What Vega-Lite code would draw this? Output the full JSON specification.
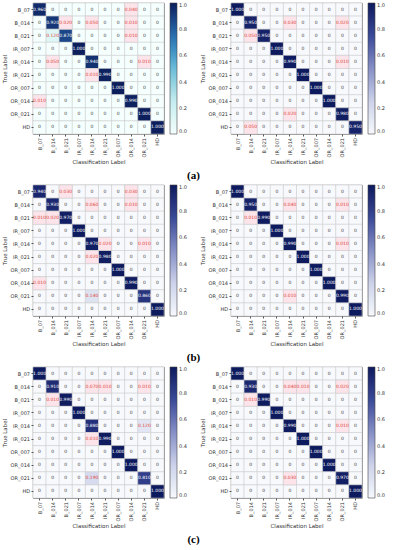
{
  "$schema": "https://vega.github.io/schema/vega-lite/v6.json",
  "padding": {"left": 1, "top": 2, "right": 1, "bottom": 0},
  "background": "white",
  "data": {"values": [
    {"g":"a1","t":"B_07","B_07":0.96,"B_014":0,"B_021":0,"IR_007":0,"IR_014":0,"IR_021":0,"OR_007":0,"OR_014":0.04,"OR_021":0,"HD":0},
    {"g":"a1","t":"B_014","B_07":0,"B_014":0.92,"B_021":0.02,"IR_007":0,"IR_014":0.05,"IR_021":0,"OR_007":0,"OR_014":0.01,"OR_021":0,"HD":0},
    {"g":"a1","t":"B_021","B_07":0,"B_014":0.12,"B_021":0.87,"IR_007":0,"IR_014":0,"IR_021":0,"OR_007":0,"OR_014":0.01,"OR_021":0,"HD":0},
    {"g":"a1","t":"IR_007","B_07":0,"B_014":0,"B_021":0,"IR_007":1,"IR_014":0,"IR_021":0,"OR_007":0,"OR_014":0,"OR_021":0,"HD":0},
    {"g":"a1","t":"IR_014","B_07":0,"B_014":0.05,"B_021":0,"IR_007":0,"IR_014":0.94,"IR_021":0,"OR_007":0,"OR_014":0,"OR_021":0.01,"HD":0},
    {"g":"a1","t":"IR_021","B_07":0,"B_014":0,"B_021":0,"IR_007":0,"IR_014":0.01,"IR_021":0.99,"OR_007":0,"OR_014":0,"OR_021":0,"HD":0},
    {"g":"a1","t":"OR_007","B_07":0,"B_014":0,"B_021":0,"IR_007":0,"IR_014":0,"IR_021":0,"OR_007":1,"OR_014":0,"OR_021":0,"HD":0},
    {"g":"a1","t":"OR_014","B_07":0.01,"B_014":0,"B_021":0,"IR_007":0,"IR_014":0,"IR_021":0,"OR_007":0,"OR_014":0.99,"OR_021":0,"HD":0},
    {"g":"a1","t":"OR_021","B_07":0,"B_014":0,"B_021":0,"IR_007":0,"IR_014":0,"IR_021":0,"OR_007":0,"OR_014":0,"OR_021":1,"HD":0},
    {"g":"a1","t":"HD","B_07":0,"B_014":0,"B_021":0,"IR_007":0,"IR_014":0,"IR_021":0,"OR_007":0,"OR_014":0,"OR_021":0,"HD":1},

    {"g":"a2","t":"B_07","B_07":1,"B_014":0,"B_021":0,"IR_007":0,"IR_014":0,"IR_021":0,"OR_007":0,"OR_014":0,"OR_021":0,"HD":0},
    {"g":"a2","t":"B_014","B_07":0,"B_014":0.95,"B_021":0,"IR_007":0,"IR_014":0.03,"IR_021":0,"OR_007":0,"OR_014":0,"OR_021":0.02,"HD":0},
    {"g":"a2","t":"B_021","B_07":0,"B_014":0.05,"B_021":0.95,"IR_007":0,"IR_014":0,"IR_021":0,"OR_007":0,"OR_014":0,"OR_021":0,"HD":0},
    {"g":"a2","t":"IR_007","B_07":0,"B_014":0,"B_021":0,"IR_007":1,"IR_014":0,"IR_021":0,"OR_007":0,"OR_014":0,"OR_021":0,"HD":0},
    {"g":"a2","t":"IR_014","B_07":0,"B_014":0,"B_021":0,"IR_007":0,"IR_014":0.99,"IR_021":0,"OR_007":0,"OR_014":0,"OR_021":0.01,"HD":0},
    {"g":"a2","t":"IR_021","B_07":0,"B_014":0,"B_021":0,"IR_007":0,"IR_014":0,"IR_021":1,"OR_007":0,"OR_014":0,"OR_021":0,"HD":0},
    {"g":"a2","t":"OR_007","B_07":0,"B_014":0,"B_021":0,"IR_007":0,"IR_014":0,"IR_021":0,"OR_007":1,"OR_014":0,"OR_021":0,"HD":0},
    {"g":"a2","t":"OR_014","B_07":0,"B_014":0,"B_021":0,"IR_007":0,"IR_014":0,"IR_021":0,"OR_007":0,"OR_014":1,"OR_021":0,"HD":0},
    {"g":"a2","t":"OR_021","B_07":0,"B_014":0,"B_021":0,"IR_007":0,"IR_014":0.02,"IR_021":0,"OR_007":0,"OR_014":0,"OR_021":0.98,"HD":0},
    {"g":"a2","t":"HD","B_07":0,"B_014":0.05,"B_021":0,"IR_007":0,"IR_014":0,"IR_021":0,"OR_007":0,"OR_014":0,"OR_021":0,"HD":0.95},

    {"g":"b1","t":"B_07","B_07":0.94,"B_014":0,"B_021":0.03,"IR_007":0,"IR_014":0,"IR_021":0,"OR_007":0,"OR_014":0.03,"OR_021":0,"HD":0},
    {"g":"b1","t":"B_014","B_07":0,"B_014":0.93,"B_021":0,"IR_007":0,"IR_014":0.06,"IR_021":0,"OR_007":0,"OR_014":0.01,"OR_021":0,"HD":0},
    {"g":"b1","t":"B_021","B_07":0.01,"B_014":0.02,"B_021":0.97,"IR_007":0,"IR_014":0,"IR_021":0,"OR_007":0,"OR_014":0,"OR_021":0,"HD":0},
    {"g":"b1","t":"IR_007","B_07":0,"B_014":0,"B_021":0,"IR_007":1,"IR_014":0,"IR_021":0,"OR_007":0,"OR_014":0,"OR_021":0,"HD":0},
    {"g":"b1","t":"IR_014","B_07":0,"B_014":0,"B_021":0,"IR_007":0,"IR_014":0.97,"IR_021":0.02,"OR_007":0,"OR_014":0,"OR_021":0.01,"HD":0},
    {"g":"b1","t":"IR_021","B_07":0,"B_014":0,"B_021":0,"IR_007":0,"IR_014":0.02,"IR_021":0.98,"OR_007":0,"OR_014":0,"OR_021":0,"HD":0},
    {"g":"b1","t":"OR_007","B_07":0,"B_014":0,"B_021":0,"IR_007":0,"IR_014":0,"IR_021":0,"OR_007":1,"OR_014":0,"OR_021":0,"HD":0},
    {"g":"b1","t":"OR_014","B_07":0.01,"B_014":0,"B_021":0,"IR_007":0,"IR_014":0,"IR_021":0,"OR_007":0,"OR_014":0.99,"OR_021":0,"HD":0},
    {"g":"b1","t":"OR_021","B_07":0,"B_014":0,"B_021":0,"IR_007":0,"IR_014":0.14,"IR_021":0,"OR_007":0,"OR_014":0,"OR_021":0.86,"HD":0},
    {"g":"b1","t":"HD","B_07":0,"B_014":0,"B_021":0,"IR_007":0,"IR_014":0,"IR_021":0,"OR_007":0,"OR_014":0,"OR_021":0,"HD":1},

    {"g":"b2","t":"B_07","B_07":1,"B_014":0,"B_021":0,"IR_007":0,"IR_014":0,"IR_021":0,"OR_007":0,"OR_014":0,"OR_021":0,"HD":0},
    {"g":"b2","t":"B_014","B_07":0,"B_014":0.95,"B_021":0,"IR_007":0,"IR_014":0.04,"IR_021":0,"OR_007":0,"OR_014":0,"OR_021":0.01,"HD":0},
    {"g":"b2","t":"B_021","B_07":0,"B_014":0.01,"B_021":0.99,"IR_007":0,"IR_014":0,"IR_021":0,"OR_007":0,"OR_014":0,"OR_021":0,"HD":0},
    {"g":"b2","t":"IR_007","B_07":0,"B_014":0,"B_021":0,"IR_007":1,"IR_014":0,"IR_021":0,"OR_007":0,"OR_014":0,"OR_021":0,"HD":0},
    {"g":"b2","t":"IR_014","B_07":0,"B_014":0,"B_021":0,"IR_007":0,"IR_014":0.99,"IR_021":0,"OR_007":0,"OR_014":0,"OR_021":0.01,"HD":0},
    {"g":"b2","t":"IR_021","B_07":0,"B_014":0,"B_021":0,"IR_007":0,"IR_014":0,"IR_021":1,"OR_007":0,"OR_014":0,"OR_021":0,"HD":0},
    {"g":"b2","t":"OR_007","B_07":0,"B_014":0,"B_021":0,"IR_007":0,"IR_014":0,"IR_021":0,"OR_007":1,"OR_014":0,"OR_021":0,"HD":0},
    {"g":"b2","t":"OR_014","B_07":0,"B_014":0,"B_021":0,"IR_007":0,"IR_014":0,"IR_021":0,"OR_007":0,"OR_014":1,"OR_021":0,"HD":0},
    {"g":"b2","t":"OR_021","B_07":0,"B_014":0,"B_021":0,"IR_007":0,"IR_014":0.01,"IR_021":0,"OR_007":0,"OR_014":0,"OR_021":0.99,"HD":0},
    {"g":"b2","t":"HD","B_07":0,"B_014":0,"B_021":0,"IR_007":0,"IR_014":0,"IR_021":0,"OR_007":0,"OR_014":0,"OR_021":0,"HD":1},

    {"g":"c1","t":"B_07","B_07":1,"B_014":0,"B_021":0,"IR_007":0,"IR_014":0,"IR_021":0,"OR_007":0,"OR_014":0,"OR_021":0,"HD":0},
    {"g":"c1","t":"B_014","B_07":0,"B_014":0.91,"B_021":0,"IR_007":0,"IR_014":0.07,"IR_021":0.01,"OR_007":0,"OR_014":0,"OR_021":0.01,"HD":0},
    {"g":"c1","t":"B_021","B_07":0,"B_014":0.01,"B_021":0.99,"IR_007":0,"IR_014":0,"IR_021":0,"OR_007":0,"OR_014":0,"OR_021":0,"HD":0},
    {"g":"c1","t":"IR_007","B_07":0,"B_014":0,"B_021":0,"IR_007":1,"IR_014":0,"IR_021":0,"OR_007":0,"OR_014":0,"OR_021":0,"HD":0},
    {"g":"c1","t":"IR_014","B_07":0,"B_014":0,"B_021":0,"IR_007":0,"IR_014":0.88,"IR_021":0,"OR_007":0,"OR_014":0,"OR_021":0.12,"HD":0},
    {"g":"c1","t":"IR_021","B_07":0,"B_014":0,"B_021":0,"IR_007":0,"IR_014":0.01,"IR_021":0.99,"OR_007":0,"OR_014":0,"OR_021":0,"HD":0},
    {"g":"c1","t":"OR_007","B_07":0,"B_014":0,"B_021":0,"IR_007":0,"IR_014":0,"IR_021":0,"OR_007":1,"OR_014":0,"OR_021":0,"HD":0},
    {"g":"c1","t":"OR_014","B_07":0,"B_014":0,"B_021":0,"IR_007":0,"IR_014":0,"IR_021":0,"OR_007":0,"OR_014":1,"OR_021":0,"HD":0},
    {"g":"c1","t":"OR_021","B_07":0,"B_014":0,"B_021":0,"IR_007":0,"IR_014":0.19,"IR_021":0,"OR_007":0,"OR_014":0,"OR_021":0.81,"HD":0},
    {"g":"c1","t":"HD","B_07":0,"B_014":0,"B_021":0,"IR_007":0,"IR_014":0,"IR_021":0,"OR_007":0,"OR_014":0,"OR_021":0,"HD":1},

    {"g":"c2","t":"B_07","B_07":1,"B_014":0,"B_021":0,"IR_007":0,"IR_014":0,"IR_021":0,"OR_007":0,"OR_014":0,"OR_021":0,"HD":0},
    {"g":"c2","t":"B_014","B_07":0,"B_014":0.93,"B_021":0,"IR_007":0,"IR_014":0.04,"IR_021":0.01,"OR_007":0,"OR_014":0,"OR_021":0.02,"HD":0},
    {"g":"c2","t":"B_021","B_07":0,"B_014":0.01,"B_021":0.99,"IR_007":0,"IR_014":0,"IR_021":0,"OR_007":0,"OR_014":0,"OR_021":0,"HD":0},
    {"g":"c2","t":"IR_007","B_07":0,"B_014":0,"B_021":0,"IR_007":1,"IR_014":0,"IR_021":0,"OR_007":0,"OR_014":0,"OR_021":0,"HD":0},
    {"g":"c2","t":"IR_014","B_07":0,"B_014":0,"B_021":0,"IR_007":0,"IR_014":0.99,"IR_021":0,"OR_007":0,"OR_014":0,"OR_021":0.01,"HD":0},
    {"g":"c2","t":"IR_021","B_07":0,"B_014":0,"B_021":0,"IR_007":0,"IR_014":0,"IR_021":1,"OR_007":0,"OR_014":0,"OR_021":0,"HD":0},
    {"g":"c2","t":"OR_007","B_07":0,"B_014":0,"B_021":0,"IR_007":0,"IR_014":0,"IR_021":0,"OR_007":1,"OR_014":0,"OR_021":0,"HD":0},
    {"g":"c2","t":"OR_014","B_07":0,"B_014":0,"B_021":0,"IR_007":0,"IR_014":0,"IR_021":0,"OR_007":0,"OR_014":1,"OR_021":0,"HD":0},
    {"g":"c2","t":"OR_021","B_07":0,"B_014":0,"B_021":0,"IR_007":0,"IR_014":0.03,"IR_021":0,"OR_007":0,"OR_014":0,"OR_021":0.97,"HD":0},
    {"g":"c2","t":"HD","B_07":0,"B_014":0,"B_021":0,"IR_007":0,"IR_014":0,"IR_021":0,"OR_007":0,"OR_014":0,"OR_021":0,"HD":1}
  ]},
  "config": {
    "view": {"stroke": "#555555", "strokeWidth": 0.8},
    "axis": {"labelFont": "DejaVu Sans", "titleFont": "DejaVu Sans", "labelFontSize": 5, "titleFontSize": 5.5, "titleFontWeight": "normal", "labelColor": "#333333", "titleColor": "#333333", "tickSize": 2, "tickColor": "#555555", "labelPadding": 1.5, "titlePadding": 3, "domain": false},
    "axisX": {"labelAngle": -90},
    "legend": {"gradientLength": 131, "gradientThickness": 7, "labelFontSize": 5, "labelFont": "DejaVu Sans", "labelColor": "#333333", "labelOffset": 2, "offset": 6, "gradientStrokeColor": "#444444", "gradientStrokeWidth": 0.6, "padding": 0},
    "title": {"font": "Liberation Serif", "fontSize": 11, "fontWeight": "bold", "color": "#000000", "offset": 4}
  },
  "spacing": 3,
  "resolve": {"scale": {"color": "independent"}, "legend": {"color": "independent"}},
  "vconcat": [
    {
      "title": {"text": "(a)", "orient": "bottom", "anchor": "middle"},
      "spacing": 11,
      "resolve": {"scale": {"color": "independent"}, "legend": {"color": "independent"}},
      "hconcat": [
        {
          "width": 131, "height": 131,
          "transform": [{"filter": "datum.g == 'a1'"}, {"fold": ["B_07","B_014","B_021","IR_007","IR_014","IR_021","OR_007","OR_014","OR_021","HD"], "as": ["p","v"]}],
          "encoding": {
            "x": {"field": "p", "type": "nominal", "sort": ["B_07","B_014","B_021","IR_007","IR_014","IR_021","OR_007","OR_014","OR_021","HD"], "title": "Classification Label"},
            "y": {"field": "t", "type": "nominal", "sort": ["B_07","B_014","B_021","IR_007","IR_014","IR_021","OR_007","OR_014","OR_021","HD"], "title": "True Label"}
          },
          "layer": [
            {"mark": {"type": "rect", "stroke": "#c8c8c8", "strokeWidth": 0.5}, "encoding": {"color": {"field": "v", "type": "quantitative", "scale": {"domain": [0, 1], "range": ["#f4fffe", "#c4ecf0", "#6cbcd8", "#2a6fb0", "#0c1f5c"]}, "legend": {"title": null, "values": [0, 0.2, 0.4, 0.6, 0.8, 1], "format": ".1f"}}}},
            {"transform": [{"filter": "datum.v > 0 && datum.v < 0.1"}], "mark": {"type": "rect", "fill": "#fce4ea", "stroke": "#c8c8c8", "strokeWidth": 0.5}},
            {"mark": {"type": "text", "fontSize": 4.5, "font": "DejaVu Sans"}, "encoding": {"text": {"condition": {"test": "datum.v == 0", "value": "0"}, "field": "v", "type": "quantitative", "format": ".3f"}, "color": {"condition": [{"test": "datum.v >= 0.5", "value": "#ffffff"}, {"test": "datum.v > 0", "value": "#e0443a"}], "value": "#444444"}}}
          ]
        },
        {
          "width": 131, "height": 131,
          "transform": [{"filter": "datum.g == 'a2'"}, {"fold": ["B_07","B_014","B_021","IR_007","IR_014","IR_021","OR_007","OR_014","OR_021","HD"], "as": ["p","v"]}],
          "encoding": {
            "x": {"field": "p", "type": "nominal", "sort": ["B_07","B_014","B_021","IR_007","IR_014","IR_021","OR_007","OR_014","OR_021","HD"], "title": "Classification Label"},
            "y": {"field": "t", "type": "nominal", "sort": ["B_07","B_014","B_021","IR_007","IR_014","IR_021","OR_007","OR_014","OR_021","HD"], "title": "True Label"}
          },
          "layer": [
            {"mark": {"type": "rect", "stroke": "#c8c8c8", "strokeWidth": 0.5}, "encoding": {"color": {"field": "v", "type": "quantitative", "scale": {"domain": [0, 1], "range": ["#f7f9fd", "#cdd2ea", "#8690c6", "#3a4a98", "#0d1a5e"]}, "legend": {"title": null, "values": [0, 0.2, 0.4, 0.6, 0.8, 1], "format": ".1f"}}}},
            {"transform": [{"filter": "datum.v > 0 && datum.v < 0.1"}], "mark": {"type": "rect", "fill": "#fce4ea", "stroke": "#c8c8c8", "strokeWidth": 0.5}},
            {"mark": {"type": "text", "fontSize": 4.5, "font": "DejaVu Sans"}, "encoding": {"text": {"condition": {"test": "datum.v == 0", "value": "0"}, "field": "v", "type": "quantitative", "format": ".3f"}, "color": {"condition": [{"test": "datum.v >= 0.5", "value": "#ffffff"}, {"test": "datum.v > 0", "value": "#e0443a"}], "value": "#444444"}}}
          ]
        }
      ]
    },
    {
      "title": {"text": "(b)", "orient": "bottom", "anchor": "middle"},
      "spacing": 11,
      "resolve": {"scale": {"color": "independent"}, "legend": {"color": "independent"}},
      "hconcat": [
        {
          "width": 131, "height": 131,
          "transform": [{"filter": "datum.g == 'b1'"}, {"fold": ["B_07","B_014","B_021","IR_007","IR_014","IR_021","OR_007","OR_014","OR_021","HD"], "as": ["p","v"]}],
          "encoding": {
            "x": {"field": "p", "type": "nominal", "sort": ["B_07","B_014","B_021","IR_007","IR_014","IR_021","OR_007","OR_014","OR_021","HD"], "title": "Classification Label"},
            "y": {"field": "t", "type": "nominal", "sort": ["B_07","B_014","B_021","IR_007","IR_014","IR_021","OR_007","OR_014","OR_021","HD"], "title": "True Label"}
          },
          "layer": [
            {"mark": {"type": "rect", "stroke": "#c8c8c8", "strokeWidth": 0.5}, "encoding": {"color": {"field": "v", "type": "quantitative", "scale": {"domain": [0, 1], "range": ["#f7f9fd", "#cdd2ea", "#8690c6", "#3a4a98", "#0d1a5e"]}, "legend": {"title": null, "values": [0, 0.2, 0.4, 0.6, 0.8, 1], "format": ".1f"}}}},
            {"transform": [{"filter": "datum.v > 0 && datum.v < 0.1"}], "mark": {"type": "rect", "fill": "#fce4ea", "stroke": "#c8c8c8", "strokeWidth": 0.5}},
            {"mark": {"type": "text", "fontSize": 4.5, "font": "DejaVu Sans"}, "encoding": {"text": {"condition": {"test": "datum.v == 0", "value": "0"}, "field": "v", "type": "quantitative", "format": ".3f"}, "color": {"condition": [{"test": "datum.v >= 0.5", "value": "#ffffff"}, {"test": "datum.v > 0", "value": "#e0443a"}], "value": "#444444"}}}
          ]
        },
        {
          "width": 131, "height": 131,
          "transform": [{"filter": "datum.g == 'b2'"}, {"fold": ["B_07","B_014","B_021","IR_007","IR_014","IR_021","OR_007","OR_014","OR_021","HD"], "as": ["p","v"]}],
          "encoding": {
            "x": {"field": "p", "type": "nominal", "sort": ["B_07","B_014","B_021","IR_007","IR_014","IR_021","OR_007","OR_014","OR_021","HD"], "title": "Classification Label"},
            "y": {"field": "t", "type": "nominal", "sort": ["B_07","B_014","B_021","IR_007","IR_014","IR_021","OR_007","OR_014","OR_021","HD"], "title": "True Label"}
          },
          "layer": [
            {"mark": {"type": "rect", "stroke": "#c8c8c8", "strokeWidth": 0.5}, "encoding": {"color": {"field": "v", "type": "quantitative", "scale": {"domain": [0, 1], "range": ["#f7f9fd", "#cdd2ea", "#8690c6", "#3a4a98", "#0d1a5e"]}, "legend": {"title": null, "values": [0, 0.2, 0.4, 0.6, 0.8, 1], "format": ".1f"}}}},
            {"transform": [{"filter": "datum.v > 0 && datum.v < 0.1"}], "mark": {"type": "rect", "fill": "#fce4ea", "stroke": "#c8c8c8", "strokeWidth": 0.5}},
            {"mark": {"type": "text", "fontSize": 4.5, "font": "DejaVu Sans"}, "encoding": {"text": {"condition": {"test": "datum.v == 0", "value": "0"}, "field": "v", "type": "quantitative", "format": ".3f"}, "color": {"condition": [{"test": "datum.v >= 0.5", "value": "#ffffff"}, {"test": "datum.v > 0", "value": "#e0443a"}], "value": "#444444"}}}
          ]
        }
      ]
    },
    {
      "title": {"text": "(c)", "orient": "bottom", "anchor": "middle"},
      "spacing": 11,
      "resolve": {"scale": {"color": "independent"}, "legend": {"color": "independent"}},
      "hconcat": [
        {
          "width": 131, "height": 131,
          "transform": [{"filter": "datum.g == 'c1'"}, {"fold": ["B_07","B_014","B_021","IR_007","IR_014","IR_021","OR_007","OR_014","OR_021","HD"], "as": ["p","v"]}],
          "encoding": {
            "x": {"field": "p", "type": "nominal", "sort": ["B_07","B_014","B_021","IR_007","IR_014","IR_021","OR_007","OR_014","OR_021","HD"], "title": "Classification Label"},
            "y": {"field": "t", "type": "nominal", "sort": ["B_07","B_014","B_021","IR_007","IR_014","IR_021","OR_007","OR_014","OR_021","HD"], "title": "True Label"}
          },
          "layer": [
            {"mark": {"type": "rect", "stroke": "#c8c8c8", "strokeWidth": 0.5}, "encoding": {"color": {"field": "v", "type": "quantitative", "scale": {"domain": [0, 1], "range": ["#f7f9fd", "#cdd2ea", "#8690c6", "#3a4a98", "#0d1a5e"]}, "legend": {"title": null, "values": [0, 0.2, 0.4, 0.6, 0.8, 1], "format": ".1f"}}}},
            {"transform": [{"filter": "datum.v > 0 && datum.v < 0.1"}], "mark": {"type": "rect", "fill": "#fce4ea", "stroke": "#c8c8c8", "strokeWidth": 0.5}},
            {"mark": {"type": "text", "fontSize": 4.5, "font": "DejaVu Sans"}, "encoding": {"text": {"condition": {"test": "datum.v == 0", "value": "0"}, "field": "v", "type": "quantitative", "format": ".3f"}, "color": {"condition": [{"test": "datum.v >= 0.5", "value": "#ffffff"}, {"test": "datum.v > 0", "value": "#e0443a"}], "value": "#444444"}}}
          ]
        },
        {
          "width": 131, "height": 131,
          "transform": [{"filter": "datum.g == 'c2'"}, {"fold": ["B_07","B_014","B_021","IR_007","IR_014","IR_021","OR_007","OR_014","OR_021","HD"], "as": ["p","v"]}],
          "encoding": {
            "x": {"field": "p", "type": "nominal", "sort": ["B_07","B_014","B_021","IR_007","IR_014","IR_021","OR_007","OR_014","OR_021","HD"], "title": "Classification Label"},
            "y": {"field": "t", "type": "nominal", "sort": ["B_07","B_014","B_021","IR_007","IR_014","IR_021","OR_007","OR_014","OR_021","HD"], "title": "True Label"}
          },
          "layer": [
            {"mark": {"type": "rect", "stroke": "#c8c8c8", "strokeWidth": 0.5}, "encoding": {"color": {"field": "v", "type": "quantitative", "scale": {"domain": [0, 1], "range": ["#f7f9fd", "#cdd2ea", "#8690c6", "#3a4a98", "#0d1a5e"]}, "legend": {"title": null, "values": [0, 0.2, 0.4, 0.6, 0.8, 1], "format": ".1f"}}}},
            {"transform": [{"filter": "datum.v > 0 && datum.v < 0.1"}], "mark": {"type": "rect", "fill": "#fce4ea", "stroke": "#c8c8c8", "strokeWidth": 0.5}},
            {"mark": {"type": "text", "fontSize": 4.5, "font": "DejaVu Sans"}, "encoding": {"text": {"condition": {"test": "datum.v == 0", "value": "0"}, "field": "v", "type": "quantitative", "format": ".3f"}, "color": {"condition": [{"test": "datum.v >= 0.5", "value": "#ffffff"}, {"test": "datum.v > 0", "value": "#e0443a"}], "value": "#444444"}}}
          ]
        }
      ]
    }
  ]
}
